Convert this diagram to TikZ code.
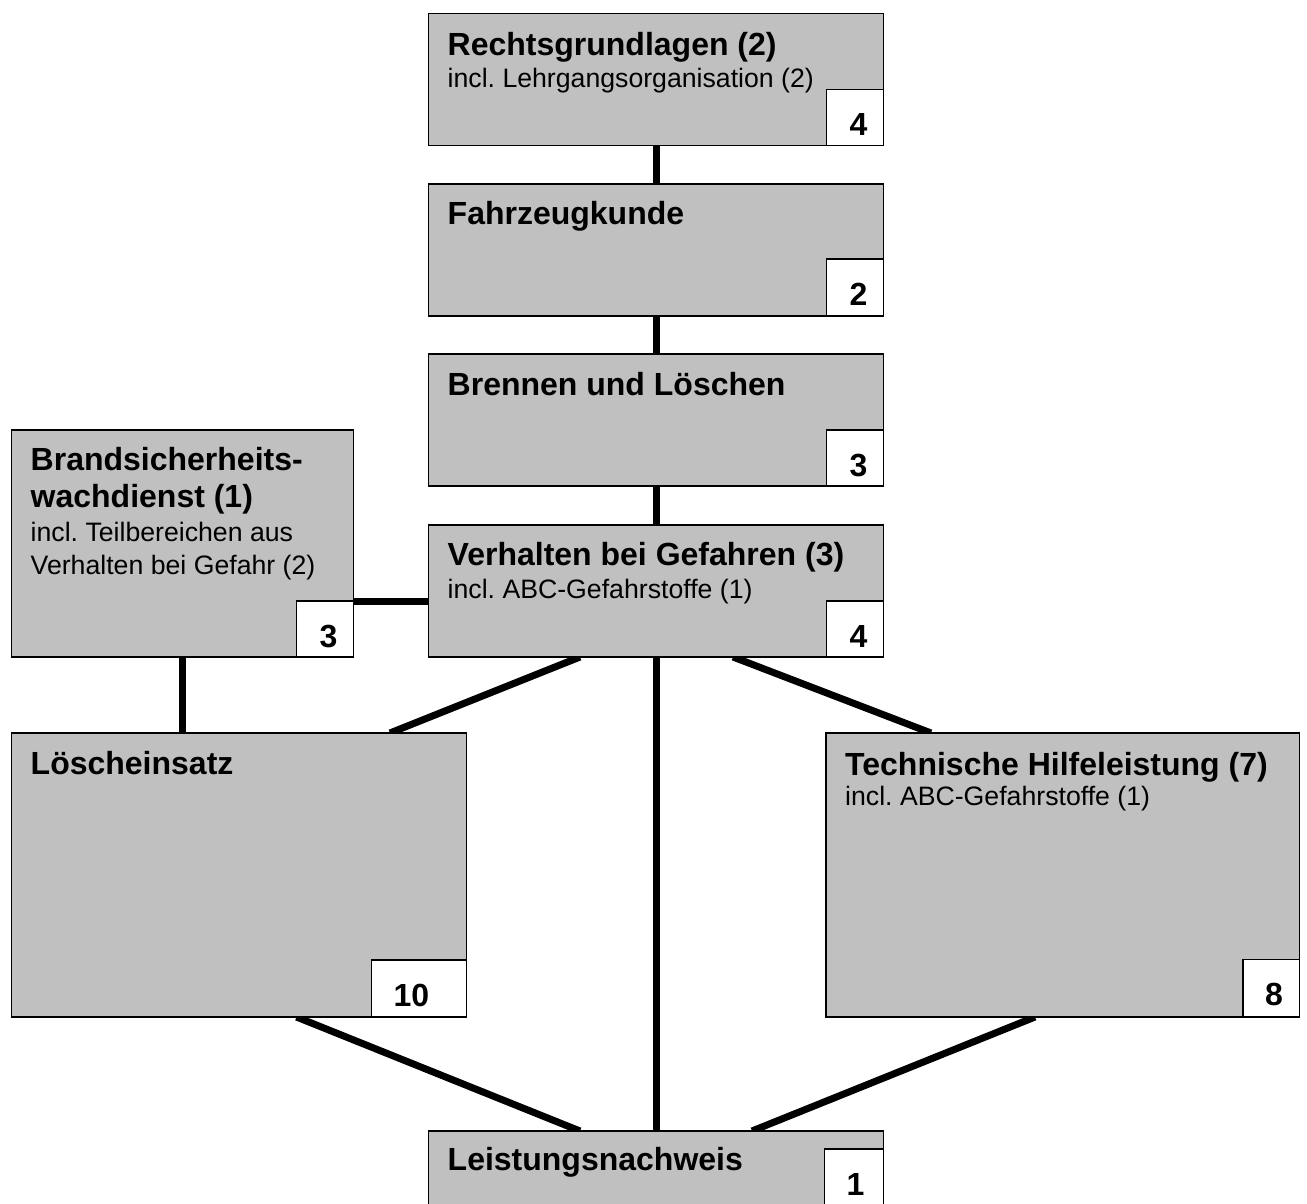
\documentclass[tikz,border=0pt]{standalone}
\usepackage{fontspec}
\setmainfont{Liberation Sans}
\frenchspacing
\usetikzlibrary{calc}
\definecolor{boxgray}{HTML}{C0C0C0}
\pgfdeclarelayer{bg}
\pgfsetlayers{bg,main}
\tikzset{
  box/.style={draw=black, line width=1.6pt, fill=boxgray, anchor=north west, inner sep=0pt, outer sep=0pt},
  numbox/.style={draw=black, line width=1.6pt, fill=white, inner sep=0pt, outer sep=0pt},
  ttl/.style={anchor=base west, inner sep=0pt, font=\fontsize{32}{36.8}\selectfont\bfseries},
  subt/.style={anchor=base west, inner sep=0pt, font=\fontsize{26.67}{30.7}\selectfont},
  num/.style={anchor=base west, inner sep=0pt, font=\fontsize{32}{36.8}\selectfont\bfseries},
  conn/.style={line width=7pt, draw=black}
}
\begin{document}
\begin{tikzpicture}[x=1pt,y=-1pt]
\useasboundingbox (0,0) rectangle (1307,1203);
\clip (0,0) rectangle (1307,1203);

% boxes
\node[box, minimum width=455pt, minimum height=132pt] (recht) at (428.5,13.5) {};
\node[box, minimum width=455pt, minimum height=132pt] (fahr) at (428.5,184) {};
\node[box, minimum width=455pt, minimum height=132pt] (brenn) at (428.5,354) {};
\node[box, minimum width=455pt, minimum height=132pt] (verh) at (428.5,525) {};
\node[box, minimum width=342pt, minimum height=227pt] (brand) at (11.5,430) {};
\node[box, minimum width=455pt, minimum height=284pt] (loesch) at (11.5,733) {};
\node[box, minimum width=473.5pt, minimum height=284pt] (tech) at (826,733) {};
\node[box, minimum width=455pt, minimum height=90pt] (leist) at (428.5,1131) {};

% number boxes
\node[numbox, anchor=south east, minimum width=57pt, minimum height=56pt] (n1) at (recht.south east) {};
\node[numbox, anchor=south east, minimum width=57pt, minimum height=57pt] (n2) at (fahr.south east) {};
\node[numbox, anchor=south east, minimum width=57pt, minimum height=56pt] (n3) at (brenn.south east) {};
\node[numbox, anchor=south east, minimum width=57pt, minimum height=56pt] (n4) at (verh.south east) {};
\node[numbox, anchor=south east, minimum width=57pt, minimum height=56pt] (n5) at (brand.south east) {};
\node[numbox, anchor=south east, minimum width=95pt, minimum height=57pt] (n6) at (loesch.south east) {};
\node[numbox, anchor=south east, minimum width=56.5pt, minimum height=57.5pt] (n7) at (tech.south east) {};
\node[numbox, anchor=north east, minimum width=59pt, minimum height=70pt] (n8) at ([yshift=-18pt]leist.north east) {};

% numbers
\node[num] (n1t) at ([shift={(23pt,-46pt)}]n1.north west) {4};
\node[num] (n2t) at ([shift={(23pt,-46pt)}]n2.north west) {2};
\node[num] (n3t) at ([shift={(23pt,-46pt)}]n3.north west) {3};
\node[num] (n4t) at ([shift={(23pt,-46pt)}]n4.north west) {4};
\node[num] (n5t) at ([shift={(23pt,-46pt)}]n5.north west) {3};
\node[num] (n6t) at ([shift={(22pt,-46pt)}]n6.north west) {10};
\node[num] (n7t) at ([shift={(22pt,-46pt)}]n7.north west) {8};
\node[num] (n8t) at ([shift={(22pt,-46pt)}]n8.north west) {1};

% texts
\node[ttl] (t1) at ([shift={(19pt,-41.5pt)}]recht.north west) {Rechtsgrundlagen (2)};
\node[subt] (t1s) at ([shift={(19pt,-73.5pt)}]recht.north west) {incl. Lehrgangsorganisation (2)};
\node[ttl] (t2) at ([shift={(19pt,-40pt)}]fahr.north west) {Fahrzeugkunde};
\node[ttl] (t3) at ([shift={(19pt,-41pt)}]brenn.north west) {Brennen und Löschen};
\node[ttl] (t4) at ([shift={(19pt,-40pt)}]verh.north west) {Verhalten bei Gefahren (3)};
\node[subt] (t4s) at ([shift={(19pt,-73.3pt)}]verh.north west) {incl. ABC-Gefahrstoffe (1)};
\node[ttl] (t5a) at ([shift={(19pt,-40pt)}]brand.north west) {Brandsicherheits-};
\node[ttl] (t5b) at ([shift={(19pt,-77pt)}]brand.north west) {wachdienst (1)};
\node[subt] (t5c) at ([shift={(19pt,-111pt)}]brand.north west) {incl. Teilbereichen aus};
\node[subt] (t5d) at ([shift={(19pt,-144pt)}]brand.north west) {Verhalten bei Gefahr (2)};
\node[ttl] (t6) at ([shift={(19pt,-41pt)}]loesch.north west) {Löscheinsatz};
\node[ttl] (t7) at ([shift={(19pt,-42pt)}]tech.north west) {Technische Hilfeleistung (7)};
\node[subt] (t7s) at ([shift={(19pt,-72pt)}]tech.north west) {incl. ABC-Gefahrstoffe (1)};
\node[ttl] (t8) at ([shift={(19pt,-39pt)}]leist.north west) {Leistungsnachweis};

% background and connectors
\begin{pgfonlayer}{bg}
\fill[white] (0,0) rectangle (1307,1203);
\draw[conn] (recht.south) -- (fahr.north);
\draw[conn] (fahr.south) -- (brenn.north);
\draw[conn] (brenn.south) -- (verh.north);
\draw[conn] (n5.north east) -- (n5.north east -| verh.west);
\draw[conn] (brand.south) -- (brand.south |- loesch.north);
\draw[conn] ([xshift=151.5pt]verh.south west) -- ([xshift=-76.5pt]loesch.north east);
\draw[conn] ([xshift=-150.5pt]verh.south east) -- ([xshift=105pt]tech.north west);
\draw[conn] (verh.south) -- (leist.north);
\draw[conn] ([xshift=285pt]loesch.south west) -- ([xshift=151.5pt]leist.north west);
\draw[conn] ([xshift=209pt]tech.south west) -- ([xshift=-131.5pt]leist.north east);
\end{pgfonlayer}
\end{tikzpicture}
\end{document}
